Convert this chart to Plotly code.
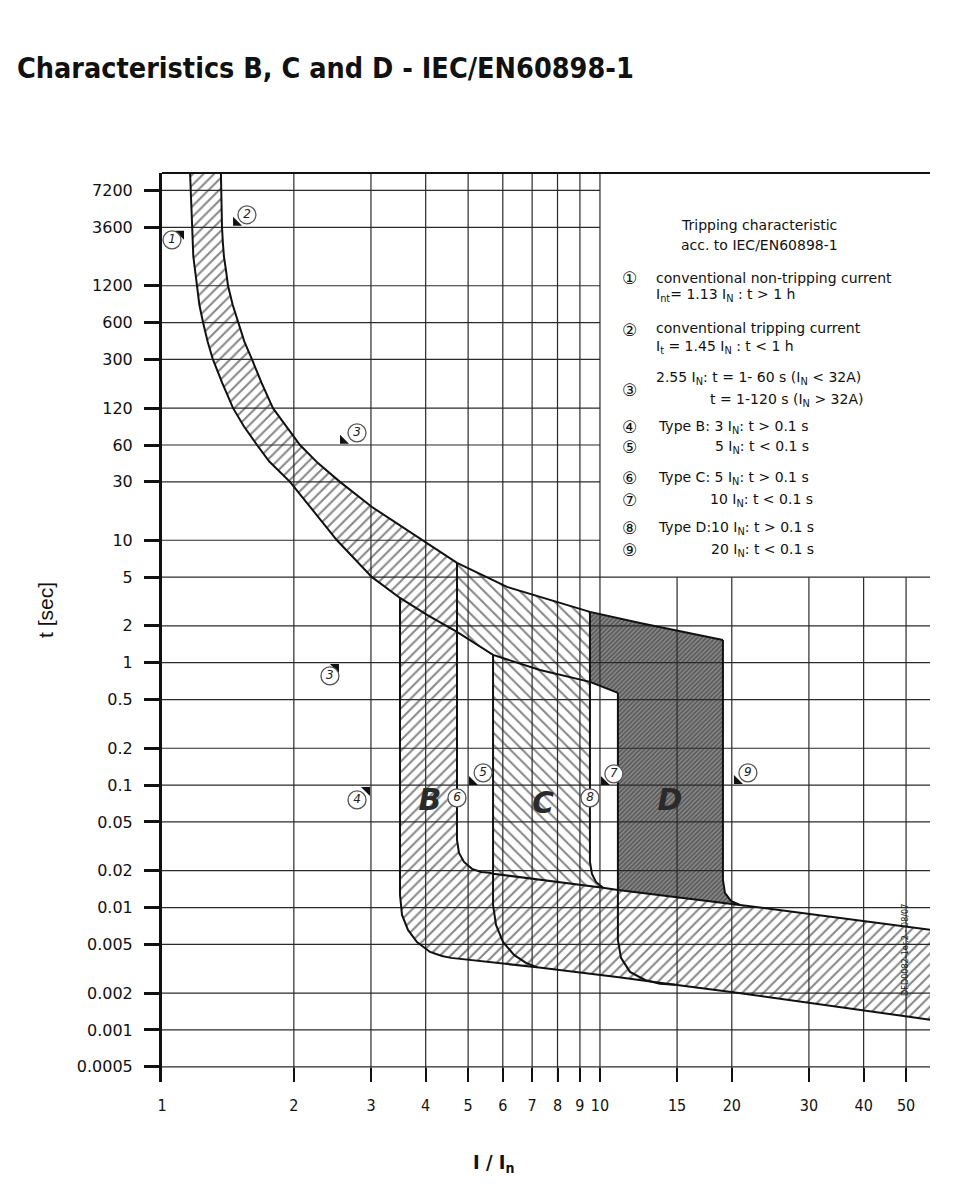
import plotly.graph_objects as go

# ---------------------------------------------------------------------------
# values (x = I/In, t = seconds)
# ---------------------------------------------------------------------------

# thermal band: lower curve (non-tripping) and upper curve (tripping)
NONTRIP_X = [1.159, 1.171, 1.179, 1.202, 1.217, 1.241, 1.271, 1.307, 1.373,
             1.453, 1.539, 1.648, 1.758, 1.960, 2.509, 3.016, 3.495, 4.028,
             4.716, 5.700, 7.295, 9.488, 10.99]
NONTRIP_T = [10000, 3600, 2078, 1200, 838, 600, 420, 300, 192,
             120, 85, 60, 44, 30, 10, 5, 3.38, 2.46,
             1.785, 1.158, 0.873, 0.697, 0.567]

TRIP_X = [1.363, 1.365, 1.371, 1.377, 1.385, 1.400, 1.415, 1.450, 1.491,
          1.542, 1.605, 1.689, 1.792, 1.919, 2.066, 2.270, 2.549, 3.016,
          3.944, 4.716, 6.135, 9.488, 12.34, 19.09]
TRIP_T = [10000, 5400, 3600, 2700, 2078, 1600, 1200, 838, 600,
          420, 300, 192, 120, 85, 60, 42.7, 30, 18.7,
          10, 6.54, 4.16, 2.60, 2.11, 1.535]

# instantaneous band (upper and lower line)
BAND_TOP_X = [5.610, 5.700, 10.16, 10.99, 20.87, 60]
BAND_TOP_T = [0.0192, 0.0189, 0.0145, 0.0139, 0.0105, 0.0064]
BAND_BOT_X = [4.569, 7.180, 10.93, 14.84, 20.55, 60]
BAND_BOT_T = [0.00388, 0.00325, 0.00271, 0.00234, 0.00201, 0.00118]

# magnetic regions B, C, D: vertical edges with their rounded feet
B_LEFT_X = [3.495, 3.495, 3.532, 3.645, 3.821, 4.092, 4.358, 4.569]
B_LEFT_T = [3.38, 0.0127, 0.0087, 0.00656, 0.00523, 0.00434, 0.00402, 0.00388]
B_RIGHT_X = [4.716, 4.716, 4.766, 4.893, 5.104, 5.351, 5.610]
B_RIGHT_T = [6.54, 0.0357, 0.0279, 0.0236, 0.0207, 0.0195, 0.0192]

C_LEFT_X = [5.700, 5.700, 5.790, 6.007, 6.365, 6.777, 7.180]
C_LEFT_T = [1.158, 0.0105, 0.00721, 0.00523, 0.00410, 0.00353, 0.00325]
C_RIGHT_X = [9.488, 9.488, 9.588, 9.792, 10.16]
C_RIGHT_T = [2.60, 0.0236, 0.0188, 0.0162, 0.0145]

D_LEFT_X = [10.99, 10.99, 11.17, 11.71, 12.67, 13.71, 14.84]
D_LEFT_T = [0.567, 0.00543, 0.00388, 0.00298, 0.00256, 0.00238, 0.00234]
D_RIGHT_X = [19.09, 19.09, 19.29, 19.91, 20.87]
D_RIGHT_T = [1.535, 0.0168, 0.0132, 0.01132, 0.0105]

# grid
GRID_T_UPPER = [7200, 3600, 1200, 600, 300, 120, 60, 30, 10]
GRID_T_LOWER = [5, 2, 1, 0.5, 0.2, 0.1, 0.05, 0.02, 0.01, 0.005,
                0.002, 0.001, 0.0005]
GRID_X_FULL = [2, 3, 4, 5, 6, 7, 8, 9, 10]
GRID_X_LOWER = [15, 20, 30, 40, 50]

X_TICKS = [1, 2, 3, 4, 5, 6, 7, 8, 9, 10, 15, 20, 30, 40, 50]
Y_TICKS = GRID_T_UPPER + GRID_T_LOWER
Y_TICKTEXT = ['7200', '3600', '1200', '600', '300', '120', '60', '30', '10',
              '5', '2', '1', '0.5', '0.2', '0.1', '0.05', '0.02', '0.01',
              '0.005', '0.002', '0.001', '0.0005']

# circled reference numbers in the plot and their black flags
CIRCLE_NUM = ['1', '2', '3', '3', '4', '5', '6', '7', '8', '9']
CIRCLE_X = [1.054, 1.563, 2.788, 2.418, 2.788, 5.41, 4.716, 10.76, 9.488, 21.77]
CIRCLE_T = [2845, 4556, 75.4, 0.780, 0.0757, 0.126, 0.0786, 0.1236, 0.0786, 0.126]

FLAG_X = [1.105, 1.476, 2.590, 2.496, 2.938, 5.104, 10.21, 20.55]
FLAG_T = [3186, 3919, 64.9, 0.924, 0.0914, 0.106, 0.106, 0.108]
FLAG_SYMBOL = ['triangle-ne', 'triangle-sw', 'triangle-sw', 'triangle-ne',
               'triangle-ne', 'triangle-sw', 'triangle-sw', 'triangle-sw']

REGION_LABELS = ['B', 'C', 'D']
REGION_X = [4.092, 7.41, 14.45]
REGION_T = [0.0715, 0.0676, 0.0715]

# explanation block (circled number, text lines)
LEGEND_ROWS = [
    ('①', ['conventional non-tripping current',
           'I<sub>nt</sub>= 1.13 I<sub>N</sub> : t &gt; 1 h']),
    ('②', ['conventional tripping current',
           'I<sub>t</sub> = 1.45 I<sub>N</sub> : t &lt; 1 h']),
    ('③', ['2.55 I<sub>N</sub>: t = 1- 60 s (I<sub>N</sub> &lt; 32A)',
           't = 1-120 s (I<sub>N</sub> &gt; 32A)']),
    ('④', ['Type B: 3 I<sub>N</sub>: t &gt; 0.1 s']),
    ('⑤', ['5 I<sub>N</sub>: t &lt; 0.1 s']),
    ('⑥', ['Type C: 5 I<sub>N</sub>: t &gt; 0.1 s']),
    ('⑦', ['10 I<sub>N</sub>: t &lt; 0.1 s']),
    ('⑧', ['Type D:10 I<sub>N</sub>: t &gt; 0.1 s']),
    ('⑨', ['20 I<sub>N</sub>: t &lt; 0.1 s']),
]
# pixel layout of the explanation block: circle y, text lines (x, y)
LEGEND_POS = [
    (278, [(654, 278), (654, 295)]),
    (330, [(654, 328), (654, 347)]),
    (390, [(654, 378), (708, 400)]),
    (427, [(656, 427)]),
    (447, [(713, 447)]),
    (478, [(656, 478)]),
    (500, [(708, 500)]),
    (528, [(656, 528)]),
    (550, [(709, 550)]),
]

# ---------------------------------------------------------------------------
# helpers
# ---------------------------------------------------------------------------
BODY = 8                      # default page margin around the plot div
PLOT_L, PLOT_R, PLOT_T, PLOT_B = 162, 930, 173, 1082
FIG_W, FIG_H = 970 - BODY, 1200 - BODY


def paper(xp, yp):
    return ((xp - PLOT_L) / (PLOT_R - PLOT_L), (PLOT_B - yp) / (PLOT_B - PLOT_T))


def sel(xs, ts, lo, hi):
    pts = [(x, t) for x, t in zip(xs, ts) if lo <= x <= hi]
    return [p[0] for p in pts], [p[1] for p in pts]


def rev(a):
    return list(reversed(a))


fig = go.Figure()


def add_fill(xs, ts, shape, size, solidity, fg='#0d0d0d', bg='rgba(255,255,255,0)'):
    fig.add_trace(go.Scatter(
        x=xs, y=ts, mode='lines', fill='toself',
        line=dict(width=0, color='rgba(0,0,0,0)'),
        fillcolor='rgba(0,0,0,0)',
        fillpattern=dict(shape=shape, size=size, solidity=solidity,
                         fgcolor=fg, bgcolor=bg),
        hoverinfo='skip', showlegend=False,
    ))


def add_line(xs, ts, width=2.0):
    fig.add_trace(go.Scatter(
        x=xs, y=ts, mode='lines', line=dict(color='#111111', width=width),
        hoverinfo='skip', showlegend=False,
    ))


# ---------------------------------------------------------------------------
# hatched areas
# ---------------------------------------------------------------------------
# "/" : thermal band left of B's right edge + B + instantaneous band
nx, nt = sel(NONTRIP_X, NONTRIP_T, 0, B_LEFT_X[0])
bbx, bbt = sel(BAND_BOT_X, BAND_BOT_T, B_LEFT_X[-1] + 1e-6, 1000)
btx, btt = sel(BAND_TOP_X, BAND_TOP_T, B_RIGHT_X[-1] + 1e-6, 1000)
tx, tt = sel(TRIP_X, TRIP_T, 0, B_RIGHT_X[0] - 1e-6)
fwd_x = nx + B_LEFT_X[1:] + bbx + rev(btx) + rev(B_RIGHT_X) + rev(tx)
fwd_t = nt + B_LEFT_T[1:] + bbt + rev(btt) + rev(B_RIGHT_T) + rev(tt)
add_fill(fwd_x, fwd_t, '/', 7.5, 0.27)

# "\" : thermal band between B and D + C region
tx, tt = sel(TRIP_X, TRIP_T, B_RIGHT_X[0], C_RIGHT_X[0])
btx, btt = sel(BAND_TOP_X, BAND_TOP_T, C_LEFT_X[0], C_RIGHT_X[-1] - 1e-6)
nx, nt = sel(NONTRIP_X, NONTRIP_T, B_RIGHT_X[0], C_LEFT_X[0])
back_x = tx + C_RIGHT_X[1:] + rev(btx) + rev(nx)
back_t = tt + C_RIGHT_T[1:] + rev(btt) + rev(nt)
add_fill(back_x, back_t, '\\', 8.5, 0.24)

# dark : D region
tx, tt = sel(TRIP_X, TRIP_T, C_RIGHT_X[0], D_RIGHT_X[0])
btx, btt = sel(BAND_TOP_X, BAND_TOP_T, D_LEFT_X[0], D_RIGHT_X[-1] - 1e-6)
nx, nt = sel(NONTRIP_X, NONTRIP_T, C_RIGHT_X[0], D_LEFT_X[0])
dark_x = tx + D_RIGHT_X[1:] + rev(btx) + rev(nx)
dark_t = tt + D_RIGHT_T[1:] + rev(btt) + rev(nt)
add_fill(dark_x, dark_t, '/', 3.2, 0.5, fg='#222222', bg='#8a8a8a')

# ---------------------------------------------------------------------------
# grid
# ---------------------------------------------------------------------------
gx, gy = [], []
for t in GRID_T_UPPER:
    gx += [1, 10, None]
    gy += [t, t, None]
for t in GRID_T_LOWER:
    gx += [1, 100, None]
    gy += [t, t, None]
for x in GRID_X_FULL:
    gx += [x, x, None]
    gy += [1e-4, 1e5, None]
for x in GRID_X_LOWER:
    gx += [x, x, None]
    gy += [1e-4, 5, None]
fig.add_trace(go.Scatter(x=gx, y=gy, mode='lines',
                         line=dict(color='#2a2a2a', width=1.2),
                         hoverinfo='skip', showlegend=False))

# ---------------------------------------------------------------------------
# outlines
# ---------------------------------------------------------------------------
add_line(NONTRIP_X, NONTRIP_T)
add_line(TRIP_X, TRIP_T)
bbx, bbt = sel(BAND_BOT_X, BAND_BOT_T, B_LEFT_X[-1] + 1e-6, 1000)
add_line(B_LEFT_X + bbx, B_LEFT_T + bbt)
btx, btt = sel(BAND_TOP_X, BAND_TOP_T, B_RIGHT_X[-1] + 1e-6, 1000)
add_line(B_RIGHT_X + btx, B_RIGHT_T + btt)
add_line(C_LEFT_X, C_LEFT_T)
add_line(C_RIGHT_X, C_RIGHT_T)
add_line(D_LEFT_X, D_LEFT_T)
add_line(D_RIGHT_X, D_RIGHT_T)

# ---------------------------------------------------------------------------
# reference marks
# ---------------------------------------------------------------------------
fig.add_trace(go.Scatter(
    x=FLAG_X, y=FLAG_T, mode='markers',
    marker=dict(symbol=FLAG_SYMBOL, size=10, color='#111111'),
    hoverinfo='skip', showlegend=False,
))
fig.add_trace(go.Scatter(
    x=CIRCLE_X, y=CIRCLE_T, mode='markers+text', text=CIRCLE_NUM,
    textposition='middle center',
    textfont=dict(family='DejaVu Sans', size=12, color='#222222', style='italic'),
    marker=dict(symbol='circle', size=18, color='white',
                line=dict(color='#555555', width=1.3)),
    hoverinfo='skip', showlegend=False,
))
fig.add_trace(go.Scatter(
    x=REGION_X, y=REGION_T, mode='text', text=['<b>%s</b>' % s for s in REGION_LABELS],
    textposition='middle center',
    textfont=dict(family='DejaVu Sans', size=30, color='#2a2a2a', style='italic'),
    hoverinfo='skip', showlegend=False,
))

# ---------------------------------------------------------------------------
# annotations
# ---------------------------------------------------------------------------
LEG_FONT = dict(family='DejaVu Sans', size=14, color='#111111')
ann = []
for text, yp in [('Tripping characteristic', 225), ('acc. to IEC/EN60898-1', 245)]:
    px_, py_ = paper(759, yp)
    ann.append(dict(text=text, x=px_, y=py_, xref='paper', yref='paper',
                    xanchor='center', yanchor='middle', showarrow=False, font=LEG_FONT))
for (num, lines), (cy, pos) in zip(LEGEND_ROWS, LEGEND_POS):
    px_, py_ = paper(629, cy)
    ann.append(dict(text=num, x=px_, y=py_, xref='paper', yref='paper',
                    xanchor='center', yanchor='middle', showarrow=False,
                    font=dict(family='DejaVu Sans', size=17, color='#111111')))
    for line, (lx, ly) in zip(lines, pos):
        px_, py_ = paper(lx, ly)
        ann.append(dict(text=line, x=px_, y=py_, xref='paper', yref='paper',
                        xanchor='left', yanchor='middle', showarrow=False, font=LEG_FONT))

px_, py_ = paper(15, 68)
ann.append(dict(text='<b>Characteristics B, C and D - IEC/EN60898-1</b>',
                x=px_, y=py_, xref='paper', yref='paper', xanchor='left',
                yanchor='middle', showarrow=False,
                font=dict(family='Liberation Sans Narrow, DejaVu Sans Condensed, DejaVu Sans',
                          size=28.5, color='#111111')))
px_, py_ = paper(45, 610)
ann.append(dict(text='t [sec]', x=px_, y=py_, xref='paper', yref='paper',
                textangle=-90, xanchor='center', yanchor='middle', showarrow=False,
                font=dict(family='Liberation Sans', size=21, color='#111111')))
px_, py_ = paper(493, 1163)
ann.append(dict(text='<b>I / I<sub>n</sub></b>', x=px_, y=py_, xref='paper', yref='paper',
                xanchor='center', yanchor='middle', showarrow=False,
                font=dict(family='Liberation Sans Narrow, DejaVu Sans Condensed, Liberation Sans',
                          size=20, color='#111111')))
px_, py_ = paper(905, 950)
ann.append(dict(text='DFD0082-1er.2 - 08/07', x=px_, y=py_, xref='paper', yref='paper',
                textangle=-90, xanchor='center', yanchor='middle', showarrow=False,
                font=dict(family='DejaVu Sans Condensed, DejaVu Sans', size=9, color='#222222')))

fig.update_layout(
    width=FIG_W, height=FIG_H,
    margin=dict(l=PLOT_L - BODY, r=FIG_W - (PLOT_R - BODY),
                t=PLOT_T - BODY, b=FIG_H - (PLOT_B - BODY)),
    paper_bgcolor='white', plot_bgcolor='white',
    showlegend=False,
    annotations=ann,
    shapes=[dict(type='line', xref='paper', yref='paper', x0=0, x1=1, y0=1, y1=1,
                 line=dict(color='#111111', width=2))],
    xaxis=dict(
        type='log', range=[0, 1.7536],
        tickvals=X_TICKS, ticktext=[str(v) for v in X_TICKS], tickangle=0,
        ticks='inside', ticklen=14, tickwidth=2, tickcolor='#111111',
        ticklabelstandoff=12,
        tickfont=dict(family='DejaVu Sans Condensed, DejaVu Sans', size=16, color='#111111'),
        showgrid=False, zeroline=False, showline=False,
    ),
    yaxis=dict(
        type='log', range=[-3.425, 4.0],
        tickvals=Y_TICKS, ticktext=Y_TICKTEXT,
        ticks='outside', ticklen=15, tickwidth=3, tickcolor='#111111',
        ticklabelstandoff=8,
        tickfont=dict(family='DejaVu Sans', size=16, color='#111111'),
        showgrid=False, zeroline=False,
        showline=True, linewidth=3, linecolor='#111111',
    ),
)

fig.write_html('out.html')
